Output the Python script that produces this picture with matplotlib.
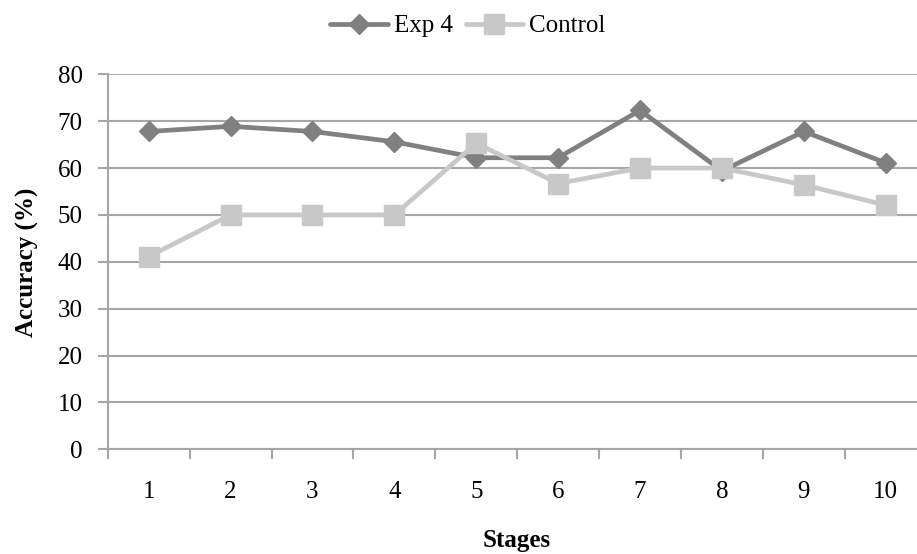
import numpy as np
import matplotlib
matplotlib.use("Agg")
import matplotlib.pyplot as plt

plt.rcParams['font.family'] = ['Liberation Serif', 'DejaVu Serif']

stages = [1, 2, 3, 4, 5, 6, 7, 8, 9, 10]
stage_labels = ["1", "2", "3", "4", "5", "6", "7", "8", "9", "10"]
exp4 = [67.8, 68.9, 67.8, 65.6, 62.2, 62.2, 72.3, 59.4, 67.8, 61.1]
control = [41.1, 50.0, 50.0, 50.0, 65.3, 56.7, 60.0, 60.0, 56.4, 52.1]

W, H = 917, 554
fig = plt.figure(figsize=(W / 100, H / 100), dpi=100)
# plot area runs past the right edge of the picture, as in the original
ax = fig.add_axes([107.7 / W, 104.7 / H, 819 / W, 375 / H])

grid_c = "#a6a6a6"
ax.plot(stages, exp4, color="#808080", lw=3.4, marker="D", ms=10,
        label="Exp 4", solid_capstyle="round", zorder=2)
ax.plot(stages, control, color="#c8c8c8", lw=3.4, marker="s", ms=14.5,
        label="Control", solid_capstyle="round", zorder=3)

ax.set_xlim(0.5, 10.5)
ax.set_ylim(0, 80)
ax.set_yticks(np.arange(0, 81, 10))
ax.yaxis.grid(True, color=grid_c, lw=1.5)
ax.set_axisbelow(True)

ax.set_xticks(np.arange(0.5, 11, 1))
ax.set_xticklabels([])
ax.set_xticks(stages, minor=True)
ax.set_xticklabels(stage_labels, minor=True)
ax.tick_params(axis="x", which="major", length=7, width=1.5, color=grid_c)
ax.tick_params(axis="x", which="minor", length=0, pad=23, labelsize=18)
ax.tick_params(axis="y", length=7, width=1.5, color=grid_c, labelsize=18, pad=11)

for s in ["top", "right"]:
    ax.spines[s].set_visible(False)
for s in ["left", "bottom"]:
    ax.spines[s].set_color(grid_c)
    ax.spines[s].set_linewidth(1.5)

fig.text(27 / W, 1 - 262 / H, "Accuracy (%)", rotation=90, ha="center", va="center",
         fontsize=18, fontweight="bold")
fig.text(517 / W, 1 - 540 / H, "Stages", ha="center", va="center",
         fontsize=18, fontweight="bold")

fig.legend(loc="center", bbox_to_anchor=(468 / W, 1 - 26 / H), ncol=2, frameon=False,
           fontsize=18, handlelength=2.3, handletextpad=0.25, columnspacing=0.5)

fig.savefig("out.png", dpi=100)
